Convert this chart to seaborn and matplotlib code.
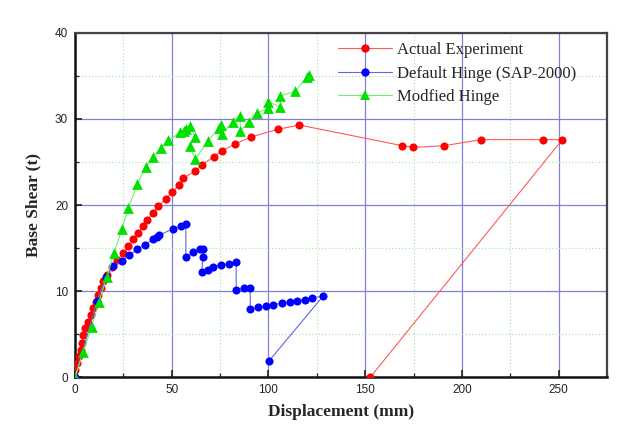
import matplotlib
matplotlib.use("Agg")
import matplotlib.pyplot as plt
from matplotlib.lines import Line2D
from matplotlib.ticker import MultipleLocator
import seaborn as sns
import pandas as pd

# ---- data ----
red_x = [0, 1.2, 2.1, 2.9, 3.8, 4.0, 5.2, 6.9, 8.1, 9.5, 10.9, 12.1, 13.3, 14.6, 16.4, 19.0,
         21.9, 25.0, 27.6, 30.2, 32.8, 35.0, 37.4, 40.2, 43.1, 47.1, 50.0, 53.8, 55.7, 61.8,
         65.9, 71.6, 75.9, 82.8, 90.9, 104.9, 115.9, 169.1, 174.9, 191.0, 209.9, 241.9, 251.9, 152.7]
red_y = [0.8, 1.6, 2.4, 3.2, 4.0, 4.85, 5.7, 6.4, 7.2, 8.0, 8.75, 9.5, 10.4, 11.2, 11.9, 12.8,
         13.6, 14.4, 15.2, 16.0, 16.8, 17.6, 18.3, 19.1, 19.9, 20.7, 21.5, 22.3, 23.1, 23.9,
         24.7, 25.6, 26.3, 27.1, 27.9, 28.8, 29.3, 26.9, 26.7, 26.9, 27.6, 27.6, 27.6, 0.0]

blue_x = [0, 11.5, 16.0, 19.8, 24.2, 28.1, 32.2, 36.2, 40.2, 42.3, 43.6, 50.4, 54.7, 57.3,
          57.3, 60.9, 64.4, 66.1, 66.1, 65.5, 68.5, 71.1, 75.4, 79.4, 83.3, 83.3, 87.1, 90.6,
          90.6, 94.7, 98.9, 102.6, 106.8, 110.9, 114.7, 118.7, 122.7, 128.2, 100.4]
blue_y = [0, 8.9, 11.6, 12.9, 13.5, 14.2, 14.85, 15.4, 16.0, 16.3, 16.5, 17.2, 17.6, 17.75,
          13.9, 14.5, 14.85, 14.9, 14.0, 12.2, 12.5, 12.8, 13.0, 13.2, 13.4, 10.1, 10.3, 10.4,
          7.9, 8.1, 8.25, 8.4, 8.6, 8.75, 8.9, 9.0, 9.2, 9.4, 1.9]

green_x = [0, 4.3, 8.6, 12.4, 16.4, 20.2, 24.2, 27.6, 32.2, 36.7, 40.5, 44.3, 48.3, 54.3,
           56.5, 57.5, 59.5, 62.1, 59.5, 62.1, 68.5, 74.2, 75.4, 75.9, 81.9, 85.4, 85.4, 89.7,
           94.2, 100.0, 100.0, 106.1, 106.1, 113.9, 119.9, 120.8]
green_y = [0, 2.95, 5.85, 8.75, 11.6, 14.45, 17.2, 19.6, 22.5, 24.45, 25.6, 26.6, 27.5, 28.45,
           28.6, 28.8, 29.2, 27.9, 26.9, 25.3, 27.4, 28.9, 29.3, 28.3, 29.7, 30.3, 28.6, 29.7,
           30.7, 31.3, 32.0, 31.4, 32.7, 33.2, 34.9, 35.1]

labels = ["Actual Experiment", "Default Hinge (SAP-2000)", "Modfied Hinge"]
x_ticks = [0, 50, 100, 150, 200, 250]
y_ticks = [0, 10, 20, 30, 40]

sns.set_style("white")
plt.rcParams['font.family'] = ['Liberation Sans', 'DejaVu Sans']

fig = plt.figure(figsize=(6.2, 4.28), dpi=100)
ax = fig.add_axes([0.121, 0.119, 0.858, 0.804])

series = [
    (red_x, red_y, "#ff0000", "#ff5a5a", "o", 34),
    (blue_x, blue_y, "#0000ff", "#6464e6", "o", 34),
    (green_x, green_y, "#00e000", "#70f070", "^", 60),
]
for i, (xs, ys, mc, lc, mk, sz) in enumerate(series):
    df = pd.DataFrame({"x": xs, "y": ys})
    sns.lineplot(data=df, x="x", y="y", sort=False, estimator=None, color=lc,
                 linewidth=0.8, ax=ax, zorder=3 + i)
    sns.scatterplot(data=df, x="x", y="y", color=mc, marker=mk, s=sz, linewidth=0,
                    ax=ax, zorder=3.5 + i)

ax.set_xlim(0, 275)
ax.set_ylim(0, 40)
ax.set_xticks(x_ticks)
ax.set_yticks(y_ticks)
ax.xaxis.set_minor_locator(MultipleLocator(25))
ax.yaxis.set_minor_locator(MultipleLocator(5))
ax.grid(True, which="major", color="#8080d8", linewidth=0.9, zorder=1)
ax.grid(True, which="minor", color="#a0e4a0", linewidth=0.8, linestyle=(0, (1, 2)), zorder=1)
ax.set_axisbelow(True)
ax.tick_params(which="major", direction="in", length=5, width=1.2, labelsize=8.5,
               colors="#222222", pad=5, bottom=True, left=True)
ax.tick_params(which="minor", direction="in", length=3, width=0.9, bottom=True, left=True)
for s in ["left", "bottom"]:
    ax.spines[s].set_color("#111111")
    ax.spines[s].set_linewidth(1.8)
for s in ["top", "right"]:
    ax.spines[s].set_color("#444444")
    ax.spines[s].set_linewidth(1.6)

ax.set_xlabel("Displacement (mm)", family="Liberation Serif", fontweight="bold",
              fontsize=12.5, labelpad=6)
ax.set_ylabel("Base Shear (t)", family="Liberation Serif", fontweight="bold",
              fontsize=12.5, labelpad=10)

handles = [
    Line2D([], [], color="#ff5a5a", lw=0.8, marker="o", markersize=6,
           markerfacecolor="#ff0000", markeredgewidth=0),
    Line2D([], [], color="#6464e6", lw=0.8, marker="o", markersize=6,
           markerfacecolor="#0000ff", markeredgewidth=0),
    Line2D([], [], color="#70f070", lw=0.8, marker="^", markersize=7,
           markerfacecolor="#00e000", markeredgewidth=0),
]
ax.legend(handles, labels, loc="upper left", bbox_to_anchor=(0.478, 1.0), frameon=False,
          prop={"family": "Liberation Serif", "size": 12}, handlelength=3.2,
          handletextpad=0.3, labelspacing=0.45, borderaxespad=0.15)

fig.savefig("out.png", dpi=100, facecolor="white")
